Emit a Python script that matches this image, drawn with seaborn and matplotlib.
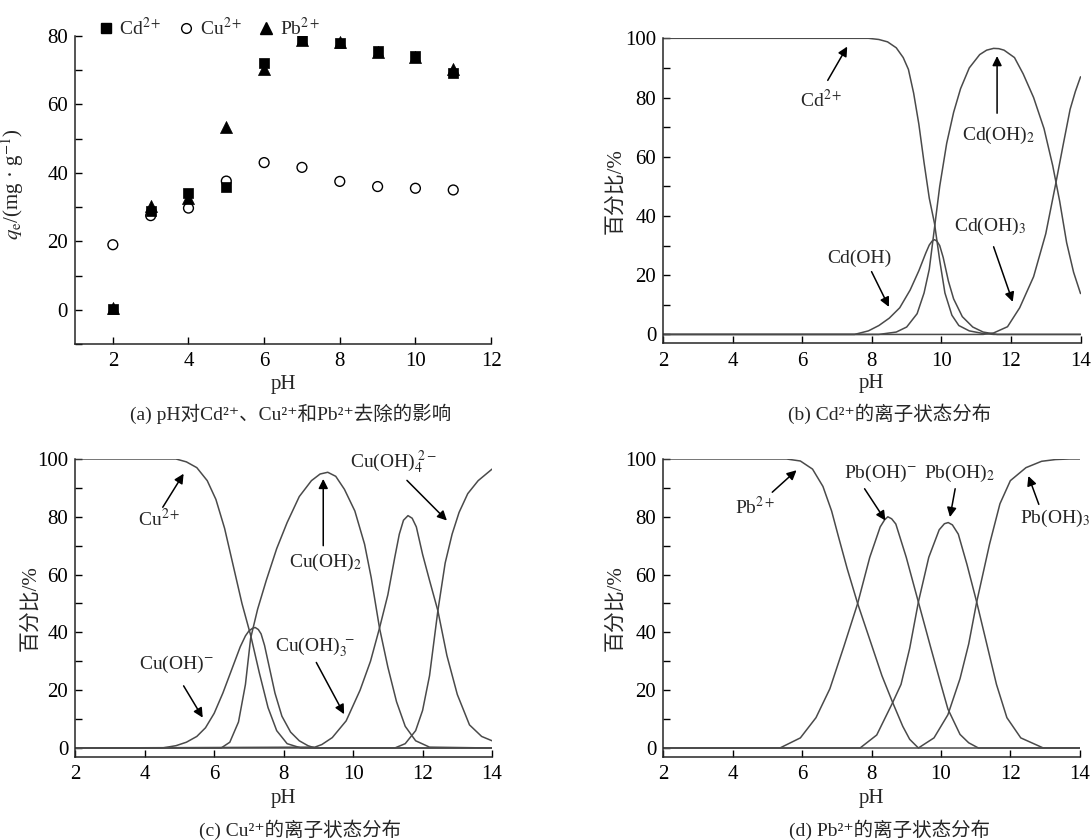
import matplotlib
matplotlib.use("Agg")
import matplotlib.pyplot as plt
from matplotlib.ticker import MultipleLocator
from matplotlib.lines import Line2D
import seaborn as sns

# ---- (a) pH 对吸附量的影响 ----
ph_a = [2, 3, 4, 5, 6, 7, 8, 9, 10, 11]
qe_cd = [0.2, 29.0, 34.1, 35.8, 72.0, 78.7, 77.9, 75.7, 74.0, 69.1]
qe_cu = [19.0, 27.5, 29.7, 37.6, 43.0, 41.6, 37.5, 36.0, 35.5, 35.0]
qe_pb = [0.4, 30.4, 32.6, 53.5, 70.3, 78.8, 78.3, 75.4, 73.8, 70.2]

# ---- (b) Cd 形态分布 ----
cd2_ph = [2, 7.9, 8.2, 8.45, 8.7, 8.9, 9.05, 9.2, 9.35, 9.5, 9.65, 9.8, 9.95, 10.1, 10.3, 10.5, 10.8, 11.2, 11.5, 14]
cd2_pct = [100, 100, 99.6, 98.8, 96.8, 93.5, 89.5, 81.5, 71, 58, 46, 37.5, 25, 14, 6.5, 3, 1.2, 0.3, 0, 0]
cdoh_ph = [2, 7.5, 7.9, 8.2, 8.5, 8.8, 9.1, 9.35, 9.55, 9.65, 9.73, 9.8, 9.87, 9.95, 10.05, 10.2, 10.35, 10.6, 10.9, 11.2, 11.6, 14]
cdoh_pct = [0, 0, 1.2, 3, 5.5, 9, 15, 21.5, 27.5, 30.2, 31.5, 32, 31.5, 30, 26, 18, 12, 6, 2.5, 0.8, 0, 0]
cdoh2_ph = [2, 8.2, 8.7, 9.0, 9.3, 9.5, 9.65, 9.8, 9.95, 10.15, 10.35, 10.55, 10.8, 11.1, 11.3, 11.5, 11.65, 11.8, 12.1, 12.35, 12.65, 12.95, 13.2, 13.4, 13.6, 13.8, 14]
cdoh2_pct = [0, 0, 0.8, 2.5, 7, 14, 22, 36, 50, 64.5, 75, 83, 90, 94.5, 96, 96.6, 96.5, 96, 93.5, 88, 80, 69.5, 57, 45, 31, 21, 13.8]
cdoh3_ph = [2, 11.2, 11.5, 11.9, 12.25, 12.65, 13.0, 13.28, 13.5, 13.7, 13.85, 14]
cdoh3_pct = [0, 0, 0.5, 2.6, 9, 19.5, 34, 50.5, 64, 76, 82, 87]

# ---- (c) Cu 形态分布 ----
cu2_ph = [2, 4.9, 5.2, 5.5, 5.8, 6.05, 6.3, 6.55, 6.8, 7.05, 7.3, 7.55, 7.8, 8.1, 8.5, 14]
cu2_pct = [100, 100, 99, 97, 92.5, 86, 76, 63, 50, 39, 26, 14, 6, 1.5, 0, 0]
cuoh_ph = [2, 4.5, 4.9, 5.2, 5.5, 5.75, 6.0, 6.25, 6.5, 6.75, 6.9, 7.0, 7.1, 7.18, 7.27, 7.35, 7.45, 7.55, 7.75, 7.95, 8.2, 8.45, 8.7, 8.9, 14]
cuoh_pct = [0, 0, 0.8, 2, 4, 7, 12, 19, 27, 35, 38.8, 40.5, 41.4, 41.7, 41, 39.5, 35.5, 30, 19, 11, 5.5, 2.5, 0.8, 0, 0]
cuoh2_ph = [2, 6.2, 6.45, 6.7, 6.9, 7.05, 7.25, 7.5, 7.8, 8.1, 8.45, 8.8, 9.05, 9.27, 9.5, 9.75, 10.05, 10.33, 10.52, 10.76, 11.0, 11.25, 11.5, 11.8, 12.2, 14]
cuoh2_pct = [0, 0, 2, 9, 22, 38, 48, 58, 69, 78, 87, 92.5, 94.8, 95.4, 94, 89.5, 82, 70.5, 59, 41.5, 28, 16, 7.5, 2.5, 0.3, 0]
cuoh3_ph = [2, 8.9, 9.1, 9.4, 9.8, 10.2, 10.5, 10.76, 11.0, 11.2, 11.33, 11.45, 11.58, 11.7, 11.82, 12.0, 12.2, 12.44, 12.7, 13.0, 13.35, 13.7, 14]
cuoh3_pct = [0, 0.3, 1.2, 3.6, 9.4, 20, 30, 41.5, 53, 66, 74, 78.8, 80.4, 79.5, 76.5, 67, 58, 47.5, 32, 18.5, 8, 4, 2.5]
cuoh4_ph = [2, 11.2, 11.5, 11.8, 12.0, 12.2, 12.44, 12.65, 12.85, 13.05, 13.3, 13.6, 14]
cuoh4_pct = [0, 0, 1.5, 6, 13, 25, 47.5, 64, 74, 81.5, 88, 92.5, 96.5]

# ---- (d) Pb 形态分布 ----
pb2_ph = [2, 5.55, 5.95, 6.3, 6.6, 6.85, 7.05, 7.3, 7.6, 7.95, 8.3, 8.6, 8.9, 9.1, 9.35, 14]
pb2_pct = [100, 100, 99.3, 96.5, 90.5, 82, 73, 62, 50, 37.5, 25, 16, 7.5, 3, 0, 0]
pboh_ph = [2, 5.36, 5.95, 6.4, 6.8, 7.2, 7.6, 7.95, 8.25, 8.38, 8.47, 8.58, 8.7, 9.0, 9.35, 9.7, 10.0, 10.2, 10.55, 10.8, 11.08, 14]
pboh_pct = [0, 0, 3.5, 10.5, 20.5, 35, 50, 66, 76.5, 79, 80, 79.3, 77.5, 66, 50.5, 35, 22, 13.5, 4.7, 1.8, 0, 0]
pboh2_ph = [2, 7.67, 8.15, 8.6, 8.85, 9.1, 9.35, 9.65, 9.95, 10.1, 10.21, 10.33, 10.5, 10.75, 11.03, 11.3, 11.6, 11.9, 12.3, 12.95, 14]
pboh2_pct = [0, 0, 4.5, 15.5, 22, 34.5, 50.5, 66, 75.5, 77.6, 78, 77.2, 74, 63.5, 50.5, 37, 22, 10.5, 3.5, 0, 0]
pboh3_ph = [2, 9.35, 9.8, 10.2, 10.55, 10.8, 11.03, 11.4, 11.7, 12.0, 12.45, 12.9, 13.3, 13.7, 14]
pboh3_pct = [0, 0, 3.5, 11.5, 24, 36, 50.5, 70.5, 84.5, 92.5, 97, 99.2, 99.8, 100, 100]

sns.set_style("ticks")
plt.rcParams['font.family'] = ['Liberation Serif', 'Noto Sans CJK SC', 'DejaVu Serif']
plt.rcParams['mathtext.fontset'] = 'stix'
plt.rcParams['font.size'] = 14
plt.rcParams['axes.linewidth'] = 1.1
plt.rcParams['axes.unicode_minus'] = True

LINE = '#4a4a4a'
FS_TICK = 15   # 刻度、坐标轴标题
FS_ANN = 14    # 曲线标注、图例
FS_CAP = 14    # 子图说明

fig = plt.figure(figsize=(10.92, 8.4), dpi=100)
ax_a = fig.add_axes([0.0687, 0.5905, 0.381, 0.3667])
ax_b = fig.add_axes([0.6074, 0.5913, 0.3821, 0.3631])
ax_c = fig.add_axes([0.0689, 0.0992, 0.3817, 0.3544])
ax_d = fig.add_axes([0.6074, 0.0992, 0.3814, 0.3544])


def style_axes(ax):
    sns.despine(ax=ax)
    ax.tick_params(axis='both', which='both', direction='in', length=5, width=1.0,
                   labelsize=FS_TICK, colors='black')
    ax.tick_params(axis='y', pad=5)
    ax.tick_params(axis='x', pad=6)
    ax.set_xlabel('pH', fontsize=FS_TICK)
    ax.grid(False)


# ---- (a) ----
sns.scatterplot(x=ph_a, y=qe_cd, ax=ax_a, marker='s', s=55, color='black', edgecolor='black', linewidth=0.5)
sns.scatterplot(x=ph_a, y=qe_cu, ax=ax_a, marker='o', s=50, facecolor='none', edgecolor='black', linewidth=1.0)
sns.scatterplot(x=ph_a, y=qe_pb, ax=ax_a, marker='^', s=75, color='black', edgecolor='black', linewidth=0.5)
ax_a.set_xlim(1, 12)
ax_a.set_ylim(-10, 80)
ax_a.xaxis.set_major_locator(MultipleLocator(2))
ax_a.yaxis.set_major_locator(MultipleLocator(20))
ax_a.yaxis.set_minor_locator(MultipleLocator(10))
style_axes(ax_a)
ax_a.set_ylabel(r'$q_{\mathrm{e}}$/(mg · g$^{-1}$)', fontsize=FS_TICK)
ax_a.yaxis.set_label_coords(-0.118, 0.52)
ax_a.xaxis.set_label_coords(0.5, -0.10)

handles = [
    Line2D([], [], ls='none', marker='s', ms=7, mfc='black', mec='black'),
    Line2D([], [], ls='none', marker='o', ms=7, mfc='none', mec='black', mew=1.0),
    Line2D([], [], ls='none', marker='^', ms=9, mfc='black', mec='black'),
]
ax_a.legend(handles, [r'Cd$^{2+}$', r'Cu$^{2+}$', r'Pb$^{2+}$'], loc='center left',
            bbox_to_anchor=(0.055, 1.027), ncol=3, frameon=False, fontsize=FS_ANN,
            handlelength=0.8, handletextpad=0.3, columnspacing=0.85, borderpad=0,
            borderaxespad=0)


def draw_species(ax, series):
    for ph, pct in series:
        sns.lineplot(x=ph, y=pct, ax=ax, color=LINE, lw=1.1, estimator=None, sort=False)
    ax.set_xlim(2, 14)
    ax.set_ylim(-3, 100)
    ax.xaxis.set_major_locator(MultipleLocator(2))
    ax.yaxis.set_major_locator(MultipleLocator(20))
    ax.yaxis.set_minor_locator(MultipleLocator(10))
    style_axes(ax)
    ax.set_ylabel('百分比/%', fontsize=FS_TICK)


def label(ax, text, pos, tail, tip):
    ax.text(pos[0], pos[1], text, ha='center', va='center', fontsize=FS_ANN)
    ax.annotate('', xy=tip, xytext=tail,
                arrowprops=dict(arrowstyle='-|>', color='black', lw=1.1,
                                mutation_scale=14, shrinkA=0, shrinkB=0))


# ---- (b) ----
draw_species(ax_b, [(cd2_ph, cd2_pct), (cdoh_ph, cdoh_pct), (cdoh2_ph, cdoh2_pct), (cdoh3_ph, cdoh3_pct)])
ax_b.yaxis.set_label_coords(-0.092, 0.5)
ax_b.xaxis.set_label_coords(0.5, -0.102)
label(ax_b, r'Cd$^{2+}$', (6.54, 79.2), (6.73, 85.8), (7.29, 97.2))
label(ax_b, r'Cd(OH)$_2$', (11.64, 67.3), (11.6, 74.7), (11.6, 94.0))
label(ax_b, r'Cd(OH)$_3$', (11.4, 36.4), (11.5, 29.6), (12.05, 11.0))
label(ax_b, 'Cd(OH)', (7.64, 25.7), (7.99, 21.2), (8.49, 9.3))

# ---- (c) ----
draw_species(ax_c, [(cu2_ph, cu2_pct), (cuoh_ph, cuoh_pct), (cuoh2_ph, cuoh2_pct),
                    (cuoh3_ph, cuoh3_pct), (cuoh4_ph, cuoh4_pct)])
ax_c.yaxis.set_label_coords(-0.084, 0.5)
ax_c.xaxis.set_label_coords(0.5, -0.108)
label(ax_c, r'Cu$^{2+}$', (4.42, 79.3), (4.52, 83.3), (5.12, 94.9))
label(ax_c, r'Cu(OH)$_2$', (9.19, 64.3), (9.14, 70.0), (9.14, 93.1))
label(ax_c, r'Cu(OH)$_4^{\ 2-}$', (11.15, 98.9), (11.55, 92.6), (12.7, 78.7))
label(ax_c, r'Cu(OH)$_3^{\ -}$', (8.89, 34.8), (8.94, 29.6), (9.74, 11.7))
label(ax_c, r'Cu(OH)$^{-}$', (4.92, 29.0), (5.12, 21.5), (5.67, 10.5))

# ---- (d) ----
draw_species(ax_d, [(pb2_ph, pb2_pct), (pboh_ph, pboh_pct), (pboh2_ph, pboh2_pct), (pboh3_ph, pboh3_pct)])
ax_d.yaxis.set_label_coords(-0.092, 0.5)
ax_d.xaxis.set_label_coords(0.5, -0.108)
label(ax_d, r'Pb$^{2+}$', (4.64, 83.3), (5.14, 88.5), (5.84, 96.1))
label(ax_d, r'Pb(OH)$^{-}$', (8.25, 94.9), (7.8, 89.7), (8.4, 78.7))
label(ax_d, r'Pb(OH)$_2$', (10.53, 94.9), (10.41, 89.7), (10.26, 79.9))
label(ax_d, r'Pb(OH)$_3$', (13.29, 79.3), (12.82, 84.3), (12.52, 94.1))

# ---- 图注 ----
fig.text(291 / 1092, 1 - 414 / 840, '(a) pH对Cd²⁺、Cu²⁺和Pb²⁺去除的影响', ha='center', va='center', fontsize=FS_CAP)
fig.text(890 / 1092, 1 - 414 / 840, '(b) Cd²⁺的离子状态分布', ha='center', va='center', fontsize=FS_CAP)
fig.text(300 / 1092, 1 - 830 / 840, '(c) Cu²⁺的离子状态分布', ha='center', va='center', fontsize=FS_CAP)
fig.text(890 / 1092, 1 - 830 / 840, '(d) Pb²⁺的离子状态分布', ha='center', va='center', fontsize=FS_CAP)

fig.savefig('out.png', dpi=100)
